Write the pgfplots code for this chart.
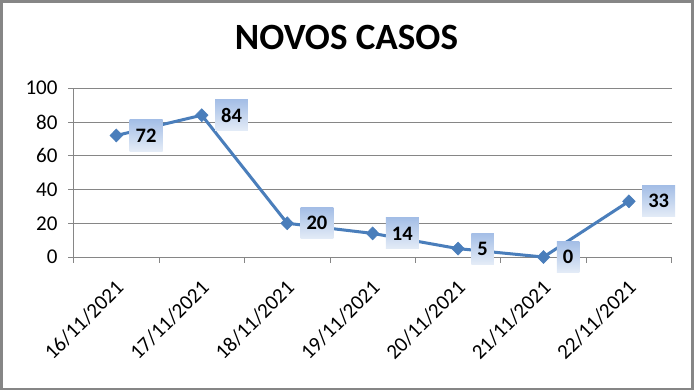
\documentclass[border=0pt]{standalone}
\usepackage{pgfplots}
\pgfplotsset{compat=1.18}
\usepackage{fontspec}
\setmainfont{Carlito}
\definecolor{linec}{HTML}{4A7EBB}
\definecolor{gridc}{HTML}{868686}
\definecolor{boxtop}{HTML}{A4BEE6}
\definecolor{boxbot}{HTML}{E4ECF7}
\begin{document}
\begin{tikzpicture}
\begin{axis}[
  at={(0bp,0bp)}, anchor=south west,
  scale only axis, width=595bp, height=168bp,
  xmin=0, xmax=7, ymin=0, ymax=100,
  axis x line*=bottom, axis y line*=left,
  axis line style={gridc, line width=0.8bp},
  xtick={0,...,7}, x tick label as interval,
  xticklabels={16/11/2021,17/11/2021,18/11/2021,19/11/2021,20/11/2021,21/11/2021,22/11/2021},
  ytick={0,20,...,100},
  ymajorgrids, grid style={gridc, line width=0.8bp},
  tick style={gridc, line width=0.8bp}, tick align=outside, major tick length=5.5bp,
  tick label style={font=\fontsize{21}{24}\selectfont, text=black},
  /pgf/number format/assume math mode=true,
  xticklabel style={xshift=-2bp, yshift=-11bp, rotate=45, anchor=north east},
  yticklabel style={xshift=-7bp},
  nodes near coords,
  nodes near coords style={anchor=west, xshift=13bp, font=\fontsize{20.5}{24}\selectfont\bfseries,
    text=black, inner xsep=6bp, inner ysep=0pt, minimum height=31bp, top color=boxtop, bottom color=boxbot},
  clip=false,
]
\addplot[color=linec, line width=3bp, mark=diamond*, mark size=6.5bp, mark options={fill=linec, line width=0.5bp, xscale=1.3}]
  coordinates {(0.5,72) (1.5,84) (2.5,20) (3.5,14) (4.5,5) (5.5,0) (6.5,33)};
\end{axis}
\draw[gridc, line width=2.5bp] (-72bp,-131.5bp) rectangle (616bp,254.5bp);
\node[font=\fontsize{37}{40}\selectfont\bfseries, anchor=base, inner sep=0pt] at (271.5bp,206bp) {NOVOS CASOS};
\end{tikzpicture}
\end{document}
